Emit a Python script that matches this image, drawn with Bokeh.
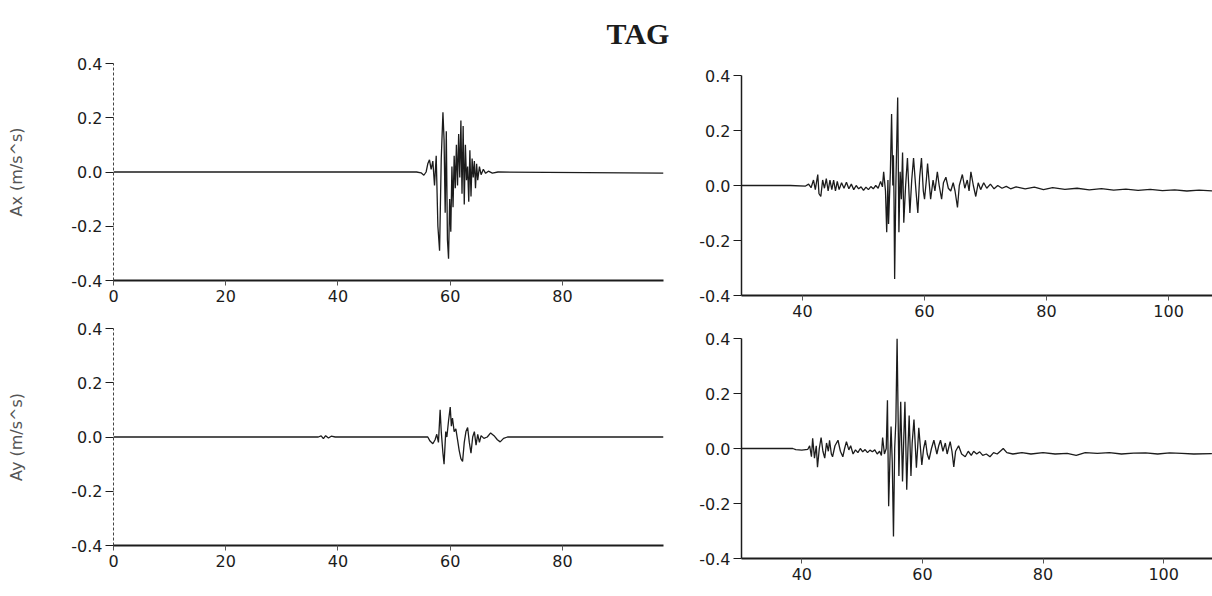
from bokeh.plotting import figure
from bokeh.layouts import column, row
from bokeh.models import Range1d, FixedTicker, NumeralTickFormatter, Div
from bokeh.embed import file_html
from bokeh.resources import INLINE

TITLE = "TAG"
Y_LABELS = ["Ax (m/s^s)", "Ay (m/s^s)"]
Y_TICKS = [-0.4, -0.2, 0.0, 0.2, 0.4]
X_TICKS_LEFT = [0, 20, 40, 60, 80]
X_TICKS_RIGHT = [40, 60, 80, 100]

# Ax, left panel (time s, acceleration m/s^2)
AX_L_T = [0, 54.0, 54.8, 55.3, 55.7, 56.0, 56.3, 56.6, 56.9, 57.2, 57.5, 57.8, 58.1, 58.4,
          58.7, 58.9, 59.1, 59.3, 59.5, 59.7, 59.9, 60.1, 60.3, 60.5, 60.7, 60.9, 61.1, 61.3,
          61.5, 61.7, 61.9, 62.1, 62.3, 62.5, 62.7, 62.9, 63.1, 63.3, 63.5, 63.7, 63.9, 64.1,
          64.3, 64.5, 64.7, 64.9, 65.2, 65.5, 65.9, 66.3, 66.8, 67.5, 68.5, 98]
AX_L_V = [0, 0.0, -0.003, -0.012, 0.0, 0.03, 0.045, 0.01, 0.04, -0.05, 0.06, -0.2, -0.29, 0.05,
          0.22, 0.12, -0.15, 0.15, -0.25, -0.32, -0.1, -0.22, 0.02, -0.13, 0.06, -0.06, 0.1, -0.05,
          0.14, -0.02, 0.19, -0.08, 0.17, -0.12, 0.1, -0.03, 0.02, -0.11, 0.08, -0.09, 0.05, -0.02,
          0.04, -0.06, 0.03, -0.03, 0.02, -0.01, 0.01, -0.005, 0.003, -0.004, 0.0, -0.004]

# Ay, left panel
AY_L_T = [0, 36.5, 37.0, 37.4, 37.8, 38.3, 38.8, 39.5, 56.0, 56.4, 56.9, 57.3, 57.6, 57.9, 58.2,
          58.4, 58.7, 58.9, 59.2, 59.4, 59.7, 60.0, 60.2, 60.4, 60.7, 61.0, 61.3, 61.6, 61.9,
          62.2, 62.5, 62.8, 63.1, 63.4, 63.7, 64.0, 64.3, 64.6, 64.9, 65.2, 65.5, 66.0, 66.6,
          67.2, 67.8, 68.4, 68.9, 69.5, 70.2, 98]
AY_L_V = [0, 0, 0.004, -0.006, 0.005, -0.004, 0.003, 0, 0, -0.015, -0.025, -0.01, 0.01, -0.02, 0.1,
          0.02, -0.06, -0.1, 0.02, 0.0, 0.06, 0.11, 0.04, 0.07, 0.02, 0.03, -0.01, -0.05, -0.08,
          -0.09, -0.02, 0.02, 0.035, -0.02, -0.06, 0.0, 0.02, -0.03, 0.01, -0.02, 0.005, -0.005, 0.0,
          0.015, 0.005, -0.01, -0.018, -0.005, 0, 0]

# Ax, right panel
AX_R_T = [30.0, 38.0, 40.5, 41.0, 41.4, 41.8, 42.1, 42.5, 42.7, 43.0, 43.3, 43.6, 43.9, 44.2,
          44.5, 44.8, 45.1, 45.4, 45.7, 46.0, 46.4, 46.8, 47.2, 47.6, 48.0, 48.4, 48.8, 49.2,
          49.6, 50.0, 50.4, 50.8, 51.2, 51.6, 52.0, 52.4, 52.8, 53.1, 53.3, 53.6, 53.8, 54.0,
          54.1, 54.4, 54.6, 54.8, 54.9, 55.0, 55.1, 55.3, 55.6, 55.8, 56.0, 56.2, 56.4, 56.6,
          56.9, 57.2, 57.6, 57.9, 58.2, 58.6, 58.9, 59.2, 59.5, 59.8, 60.0, 60.3, 60.5, 60.8,
          61.0, 61.4, 61.7, 62.1, 62.4, 62.8, 63.1, 63.5, 63.9, 64.3, 64.7, 65.0, 65.4, 65.7,
          66.2, 66.6, 67.0, 67.3, 67.6, 68.0, 68.4, 68.8, 69.2, 69.7, 70.2, 70.8, 71.4, 72.0,
          72.7, 73.4, 74.1, 75.0, 76.5, 78.0, 79.5, 81.0, 83.0, 85.0, 87.0, 89.0, 91.0, 93.0,
          95.0, 97.0, 99.0, 101.0, 103.0, 105.0, 107.5]
AX_R_V = [0.0, 0.0, -0.002, 0.005, -0.008, 0.02, -0.015, 0.04, -0.03, -0.04, 0.02, -0.01, 0.025, -0.02,
          0.02, -0.015, 0.02, -0.02, 0.015, -0.015, 0.01, -0.01, 0.012, -0.012, 0.005, -0.015, 0.0, -0.012,
          -0.005, -0.018, -0.006, -0.015, -0.004, -0.012, 0.0, -0.01, 0.015, -0.005, 0.05, -0.02, -0.17, 0.02,
          -0.14, 0.05, 0.26, 0.0, 0.11, -0.05, -0.34, 0.0, 0.32, -0.17, 0.05, -0.05, 0.12, -0.135,
          0.0, 0.10, -0.10, 0.02, 0.10, -0.02, -0.10, 0.03, 0.10, -0.02, -0.05, 0.02, 0.08, 0.0,
          -0.05, 0.02, -0.02, 0.05, 0.0, -0.05, 0.01, 0.03, -0.01, -0.02, 0.01, -0.02, -0.08, 0.0,
          0.04, -0.01, 0.02, -0.02, 0.05, 0.0, -0.04, 0.01, -0.015, 0.01, -0.01, 0.005, -0.012, 0.0,
          -0.01, -0.003, -0.012, -0.005, -0.012, -0.006, -0.015, -0.008, -0.014, -0.01, -0.016, -0.011, -0.017, -0.013,
          -0.018, -0.014, -0.019, -0.016, -0.02, -0.017, -0.02]

# Ay, right panel
AY_R_T = [30.0, 38.5, 39.0, 40.0, 41.0, 41.3, 41.6, 41.8, 42.1, 42.4, 42.6, 42.9, 43.2, 43.5,
          43.8, 44.1, 44.4, 44.6, 44.9, 45.1, 45.5, 46.0, 46.4, 46.8, 47.1, 47.4, 47.8, 48.1,
          48.5, 48.9, 49.3, 49.7, 50.1, 50.5, 50.9, 51.3, 51.7, 52.1, 52.5, 52.9, 53.2, 53.4,
          53.7, 54.0, 54.2, 54.4, 54.6, 54.8, 55.0, 55.2, 55.4, 55.6, 55.8, 56.1, 56.4, 56.7,
          56.9, 57.1, 57.4, 57.6, 57.8, 58.1, 58.3, 58.6, 59.0, 59.2, 59.4, 59.9, 60.2, 60.5,
          60.8, 61.1, 61.5, 61.9, 62.4, 62.7, 63.0, 63.4, 63.8, 64.1, 64.6, 64.9, 65.2, 65.5,
          66.0, 66.5, 67.1, 67.6, 68.1, 68.5, 69.0, 69.5, 70.0, 70.6, 71.2, 71.8, 72.4, 73.0,
          73.4, 74.0, 75.0, 76.5, 78.0, 80.0, 82.0, 84.0, 85.5, 87.0, 89.0, 91.0, 93.0, 95.0,
          97.0, 99.0, 101.0, 103.0, 105.0, 108.0]
AY_R_V = [0.0, 0.0, -0.004, -0.006, -0.003, 0.01, -0.03, 0.037, -0.035, 0.01, -0.068, 0.0, 0.04, -0.01,
          -0.035, 0.02, -0.01, 0.03, -0.02, -0.03, 0.01, 0.03, -0.01, -0.03, 0.0, 0.025, -0.005, 0.01,
          -0.02, -0.005, -0.015, 0.0, -0.012, -0.004, -0.015, -0.006, -0.012, -0.005, -0.02, -0.01, -0.025, 0.04,
          -0.02, 0.0, 0.175, -0.21, -0.05, 0.08, -0.05, -0.32, 0.0, 0.1, 0.40, -0.1, 0.17, -0.12,
          0.03, 0.17, -0.15, 0.0, 0.12, -0.10, 0.02, 0.105, -0.07, 0.0, 0.075, -0.06, 0.0, 0.03,
          -0.02, -0.04, 0.0, 0.03, -0.02, 0.01, 0.03, -0.01, 0.02, -0.02, 0.025, -0.01, -0.067, -0.01,
          0.01, -0.02, -0.03, -0.01, -0.025, -0.01, -0.02, -0.012, -0.025, -0.02, -0.03, -0.015, -0.02, -0.008,
          0.0, -0.015, -0.02, -0.015, -0.02, -0.015, -0.02, -0.018, -0.025, -0.015, -0.018, -0.015, -0.02, -0.017,
          -0.016, -0.02, -0.016, -0.018, -0.02, -0.019]

INK = "#1c1c1c"
FONT = "DejaVu Sans"


def panel(width, height, xr, xticks, borders, ylabel, dotted_y, t, v):
    p = figure(width=width, height=height, x_range=Range1d(*xr), y_range=Range1d(-0.4, 0.4),
               output_backend="svg", toolbar_location=None,
               min_border_left=borders[0], min_border_right=borders[1],
               min_border_top=borders[2], min_border_bottom=borders[3])
    p.outline_line_color = None
    p.grid.visible = False
    p.background_fill_color = "white"
    p.border_fill_color = "white"

    p.line(t, v, line_color=INK, line_width=1.3)

    xa = p.xaxis[0]
    xa.ticker = FixedTicker(ticks=xticks)
    xa.axis_line_width = 2
    xa.axis_line_color = INK
    xa.major_tick_out = 5
    xa.major_tick_in = 0
    xa.major_tick_line_color = "#555555"
    xa.minor_tick_line_color = None
    xa.major_label_standoff = 4
    xa.major_label_text_font = FONT
    xa.major_label_text_font_size = "16px"
    xa.major_label_text_color = INK

    ya = p.yaxis[0]
    ya.ticker = FixedTicker(ticks=Y_TICKS)
    ya.formatter = NumeralTickFormatter(format="0.0")
    ya.axis_line_color = "#444444" if dotted_y else INK
    ya.axis_line_width = 1 if dotted_y else 1.5
    if dotted_y:
        ya.axis_line_dash = "3 2"
    ya.major_tick_out = 8
    ya.major_tick_in = 0
    ya.major_tick_line_color = INK
    ya.minor_tick_line_color = None
    ya.major_label_standoff = 3
    ya.major_label_text_font = FONT
    ya.major_label_text_font_size = "16px"
    ya.major_label_text_color = INK
    if ylabel:
        ya.axis_label = ylabel
        ya.axis_label_text_font = FONT
        ya.axis_label_text_font_size = "16px"
        ya.axis_label_text_font_style = "normal"
        ya.axis_label_text_color = "#555555"
        ya.axis_label_standoff = 42
    return p


p_tl = panel(668, 264, (0, 98), X_TICKS_LEFT, (113, 5, 15, 32), Y_LABELS[0], True, AX_L_T, AX_L_V)
p_bl = panel(668, 284, (0, 98), X_TICKS_LEFT, (113, 5, 16, 51), Y_LABELS[1], True, AY_L_T, AY_L_V)
p_tr = panel(544, 277, (30, 107.2), X_TICKS_RIGHT, (73, 0, 27, 30), None, False, AX_R_T, AX_R_V)
p_br = panel(544, 271, (30, 108.1), X_TICKS_RIGHT, (69, 0, 13, 38), None, False, AY_R_T, AY_R_V)

title = Div(text=('<div style="width:1212px;box-sizing:border-box;text-align:center;'
                  'padding-left:64px;padding-top:21px;line-height:26px;'
                  'font-family:\'Liberation Serif\';font-weight:bold;'
                  'font-size:30px;color:#1c1c1c;">' + TITLE + '</div>'),
            width=1212, height=48, margin=(0, 0, 0, 0))

layout = column(title, row(column(p_tl, p_bl, spacing=0), column(p_tr, p_br, spacing=0), spacing=0),
                spacing=0)

open("out.html", "w").write(file_html(layout, INLINE))
